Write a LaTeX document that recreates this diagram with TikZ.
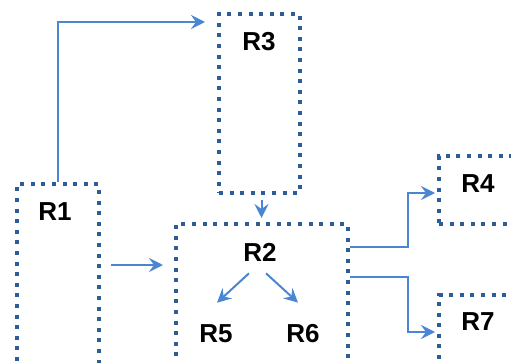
\documentclass[tikz,border=0pt]{standalone}
\usepackage{fontspec}
\setmainfont{Liberation Sans}
\usetikzlibrary{positioning,arrows.meta}
\definecolor{boxblue}{HTML}{2E5C96}
\definecolor{arrowblue}{HTML}{4A86D3}
\begin{document}
\begin{tikzpicture}[x=1pt, y=1pt,
          region/.style={rectangle, draw=boxblue, line width=4pt, dash pattern=on 4pt off 6.6pt, anchor=north west, inner sep=0pt},
          conn/.style={-{Stealth[length=14pt, width=14pt, inset=5pt]}, draw=arrowblue, line width=2pt},
          lbl/.style={inner sep=0pt, font=\fontsize{26}{26}\selectfont\bfseries}
        ]
          \useasboundingbox (0,0) rectangle (511,362);
          \clip (0,0) rectangle (511,362);

          \node[region, minimum width=82pt, minimum height=193pt] (r1) at (15,180) {};
          \node[region, minimum width=81pt, minimum height=179pt] (r3) at (217,350) {};
          \node[region, minimum width=172pt, minimum height=153pt] (r2) at (174,140) {};
          \node[region, minimum width=88pt, minimum height=68pt] (r4) at (437,208) {};
          \node[region, minimum width=88pt, minimum height=82pt] (r7) at (437,69) {};

          \node[lbl] (l1) at (55,150) {R1};
          \node[lbl] (l3) at (259,320) {R3};
          \node[lbl] (l2) at (260,110) {R2};
          \node[lbl] (l5) at (216,28) {R5};
          \node[lbl] (l6) at (303,28) {R6};
          \node[lbl] (l4) at (478,178) {R4};
          \node[lbl] (l7) at (478,40) {R7};

          \draw[conn, shorten >=12pt] (r1.north) |- ([yshift=-10pt]r3.north west);
          \draw[conn, shorten <=10pt, shorten >=11pt] ([yshift=-83pt]r1.north east) -- ([yshift=-43pt]r2.north west);
          \draw[conn, shorten <=5pt, shorten >=4pt] ([xshift=2pt]r3.south) -- ([xshift=2pt]r3.south |- r2.north);
          \draw[conn] ([xshift=-11pt, yshift=-12pt]l2.south) -- ([xshift=1pt, yshift=22pt]l5.north);
          \draw[conn] ([xshift=6pt, yshift=-12pt]l2.south) -- ([xshift=-5pt, yshift=22pt]l6.north);
          \draw[conn, shorten >=2pt] ([yshift=-25pt]r2.north east) -- ++(58,0) |- ([yshift=-3pt]r4.west);
          \draw[conn, shorten >=2pt] ([yshift=-55pt]r2.north east) -- ++(58,0) |- ([yshift=-39pt]r7.north west);
\end{tikzpicture}
\end{document}
